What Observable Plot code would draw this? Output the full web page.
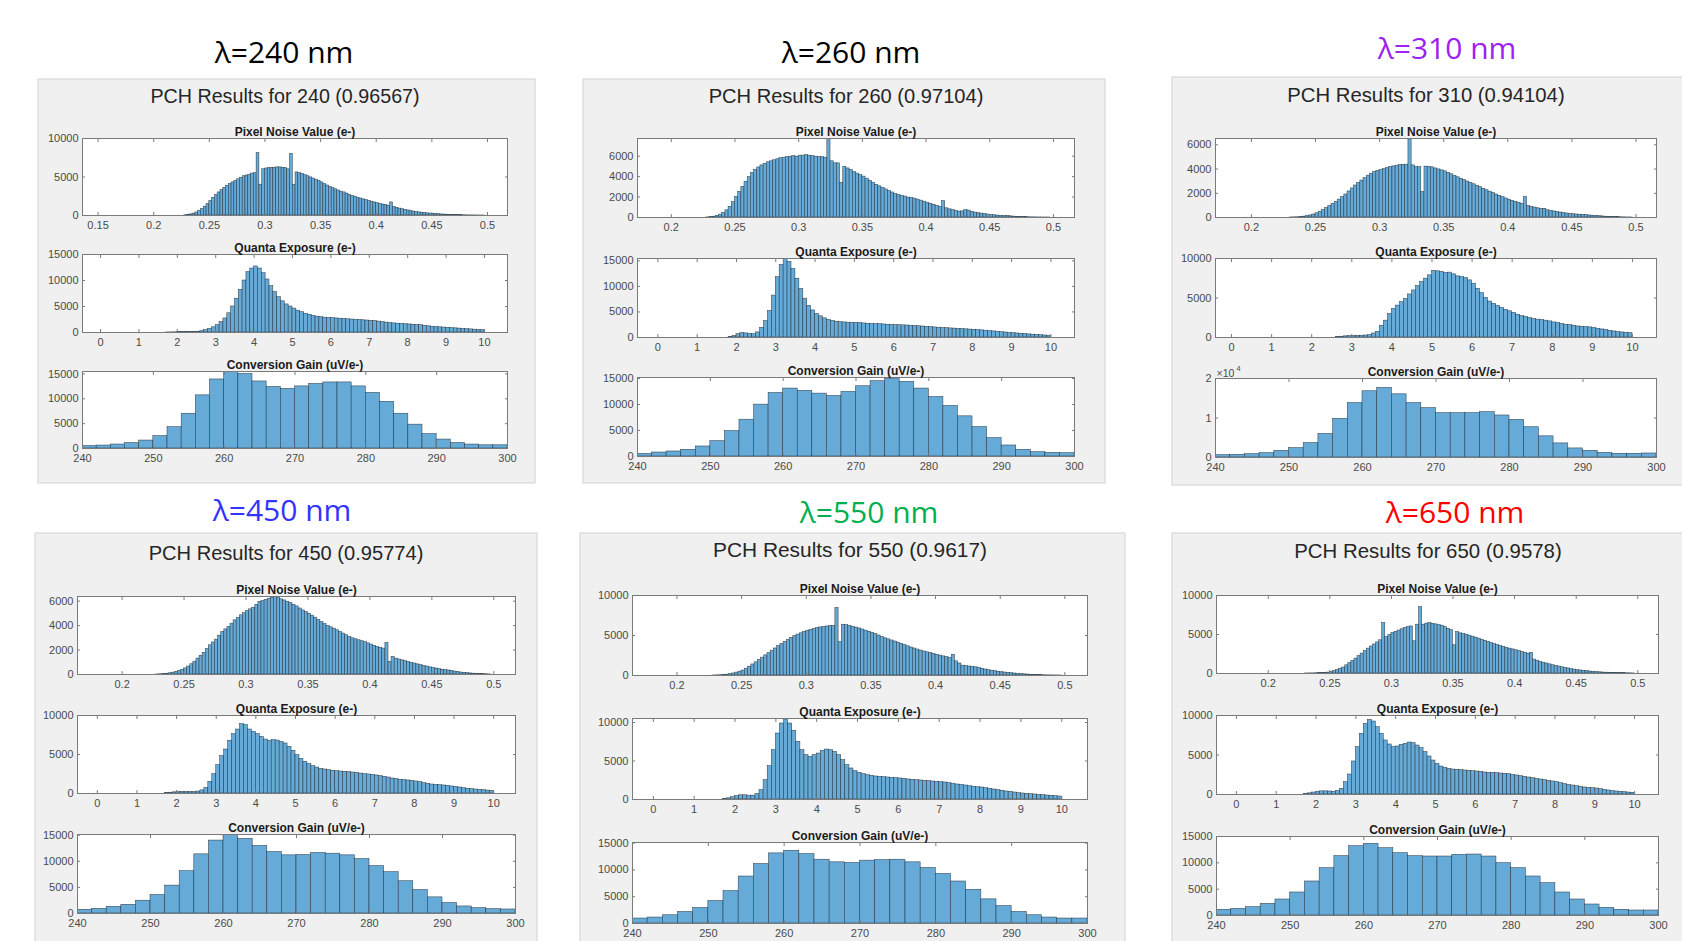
<!DOCTYPE html>
<html>
<head>
<meta charset="utf-8">
<script src="https://cdn.jsdelivr.net/npm/d3@7"></script>
<script src="https://cdn.jsdelivr.net/npm/@observablehq/plot@0.6"></script>
<style>
  html, body { margin: 0; padding: 0; background: #fff; }
  #page { position: relative; width: 1682px; height: 941px; overflow: hidden; background: #fff; }
  .sub { position: absolute; }
  .sub svg { display: block; max-width: none; overflow: visible; }
</style>
</head>
<body>
<div id="page"></div>
<script>
// ---- Histogram bin layout ----
const noiseStart = 0.225, noiseStep = 0.0025;   // Pixel Noise Value (e-)
const quantaStart = 0, quantaStep = 0.1;        // Quanta Exposure (e-)
const gainStart = 240, gainStep = 2;            // Conversion Gain (uV/e-)

// ---- Panel headings ----
const wavelengths = [240, 260, 310, 450, 550, 650];
const fitScores = ["0.96567", "0.97104", "0.94104", "0.95774", "0.9617", "0.9578"];
const subTitles = ["Pixel Noise Value (e-)", "Quanta Exposure (e-)", "Conversion Gain (uV/e-)"];

// ---- Tick labels ----
const noiseXTicks = [0.15, 0.2, 0.25, 0.3, 0.35, 0.4, 0.45, 0.5];
const quantaXTicks = [0, 1, 2, 3, 4, 5, 6, 7, 8, 9, 10];
const gainXTicks = [240, 250, 260, 270, 280, 290, 300];
const ticks10k = [0, 5000, 10000];
const ticks15k = [0, 5000, 10000, 15000];
const ticks6k = [0, 2000, 4000, 6000];
const ticks2e4 = [0, 10000, 20000];

// ---- Counts: Pixel Noise Value, bins of 0.0025 from 0.225 ----
const noise240 = [
  0,30,80,150,250,400,600,850,1150,1500,
  1900,2300,2650,3000,3300,3600,3850,4100,4300,4500,
  4700,4900,5100,5200,5300,5450,5500,8100,4000,6000,
  6100,6150,6200,6200,6250,6250,6200,6150,6000,8000,
  4000,5600,5500,5400,5250,5100,4950,4800,4650,4500,
  4300,4100,3900,3700,3550,3400,3250,3100,3000,2850,
  2700,2550,2450,2300,2200,2100,2000,1900,1800,1700,
  1600,1500,1420,1350,1280,1700,1100,1000,900,820,
  740,660,590,520,460,410,360,320,280,250,
  220,190,160,140,120,100,80,70,60,50,
  40,30,20,15,10,5,3,2,1,0];
const noise260 = [
  0,10,30,80,160,280,450,700,1050,1500,
  2000,2500,3000,3500,3950,4350,4650,4900,5100,5250,
  5400,5500,5600,5700,5800,5850,5900,5950,6000,5950,
  6050,6050,6100,6050,6000,5950,5900,5900,5850,7700,
  5500,5300,5300,3400,4950,4800,4650,4450,4300,4150,
  4000,3800,3600,3400,3200,3050,2900,2750,2600,2450,
  2300,2200,2100,2050,1950,1900,1850,1750,1650,1550,
  1450,1350,1250,1150,1050,1600,900,800,720,640,
  580,600,720,680,560,480,420,380,330,290,
  250,220,190,160,150,170,120,90,70,55,
  40,30,20,15,10,5,3,2,1,0];
const noise310 = [
  0,0,5,10,20,40,70,110,170,250,
  350,480,620,780,950,1120,1300,1480,1680,1900,
  2150,2400,2640,2850,3050,3250,3450,3600,3750,3850,
  3920,4000,4080,4150,4220,4280,4320,4350,4360,6450,
  4300,4150,4150,2100,4200,4180,4140,4050,3970,3890,
  3810,3690,3570,3440,3320,3200,3090,2970,2860,2740,
  2620,2500,2370,2250,2130,2020,1900,1790,1680,1570,
  1470,1380,1300,1220,1140,1690,950,880,820,760,
  700,720,600,550,500,450,410,370,330,300,
  270,250,230,210,190,170,150,130,110,90,
  70,60,50,35,25,15,10,5,3,0];
const noise450 = [
  0,5,15,30,60,100,150,210,290,380,
  500,650,840,1050,1300,1530,1770,2080,2390,2620,
  2850,3170,3480,3690,3890,4160,4430,4640,4840,5020,
  5190,5330,5460,5700,5950,6000,6100,6200,6280,6330,
  6300,6150,6060,5950,5840,5700,5570,5400,5240,5100,
  4970,4810,4650,4470,4290,4130,3970,3860,3750,3620,
  3480,3350,3210,3080,2960,2880,2800,2720,2640,2550,
  2450,2350,2260,2190,2120,2580,1030,1440,1300,1230,
  1160,1100,1030,960,900,830,760,700,650,590,
  540,490,440,390,350,330,300,240,190,160,
  130,110,90,70,50,40,30,20,10,0];
const noise550 = [
  0,5,15,30,60,100,160,250,360,480,
  620,850,1100,1380,1650,1950,2230,2520,2800,3100,
  3380,3670,3950,4200,4450,4700,4940,5120,5280,5450,
  5600,5710,5820,5920,6010,6070,6130,6180,6210,8440,
  4160,6350,6300,6200,6090,5990,5880,5750,5600,5480,
  5350,5180,5000,4820,4650,4520,4380,4250,4120,3960,
  3810,3650,3500,3380,3250,3120,3000,2900,2800,2700,
  2590,2490,2390,2290,2180,2590,1770,1500,1230,1180,
  1130,1080,1030,940,850,750,660,600,540,470,
  410,370,330,290,250,220,180,150,120,90,
  70,55,40,30,20,12,8,4,2,0];
const noise650 = [
  0,0,5,10,15,25,40,60,80,120,
  200,320,470,620,770,1050,1330,1620,1910,2230,
  2550,2870,3190,3460,3720,3990,4260,6470,4680,4940,
  5190,5350,5510,5670,5830,5940,6040,4130,6260,8510,
  6260,6400,6470,6380,6300,6210,6130,5940,5740,5550,
  3620,5320,5150,5060,4980,4850,4720,4600,4470,4330,
  4190,4050,3910,3780,3660,3530,3400,3300,3190,3090,
  2980,2870,2760,2660,2550,2640,1790,1640,1490,1380,
  1280,1170,1060,970,890,800,720,650,570,500,
  430,390,340,300,260,220,190,160,130,110,
  100,90,80,60,50,40,30,20,10,0];

// ---- Counts: Quanta Exposure, bins of 0.1 from 0 ----
const quanta240 = [
  0,0,0,0,0,0,0,0,0,0,
  0,0,0,0,0,0,0,10,20,40,
  80,100,90,80,90,150,250,450,700,1000,
  1400,2000,2700,3700,5000,6500,8200,10000,11600,12300,
  12700,12300,11400,10200,8900,7800,6800,6000,5400,5000,
  4600,4200,3900,3600,3400,3200,3050,2950,2850,2800,
  2750,2700,2650,2600,2550,2500,2450,2400,2350,2300,
  2250,2200,2100,2000,1900,1800,1750,1700,1650,1600,
  1550,1500,1450,1400,1300,1200,1100,1050,1000,950,
  900,850,800,750,700,650,600,550,500,450];
const quanta260 = [
  0,0,0,0,0,0,0,0,0,0,
  0,0,0,0,0,0,0,0,100,300,
  650,850,800,700,650,1000,1900,3200,5200,8200,
  11800,14200,15400,14800,13400,11500,9500,7600,6200,5300,
  4600,4150,3750,3450,3250,3100,3000,2950,2900,2880,
  2850,2800,2750,2700,2650,2620,2600,2550,2500,2450,
  2430,2400,2380,2350,2300,2250,2200,2150,2100,2030,
  1970,1920,1870,1820,1780,1740,1700,1650,1600,1550,
  1510,1450,1400,1330,1270,1200,1130,1050,980,910,
  850,790,730,670,610,560,500,450,400,350];
const quanta310 = [
  0,0,0,0,0,0,0,0,0,0,
  0,0,0,0,0,0,0,0,0,0,
  0,0,0,0,0,0,50,100,150,180,
  200,220,230,250,300,510,720,1490,2130,2980,
  3620,4040,4470,4890,5450,5960,6510,7020,7450,7870,
  8430,8380,8300,8170,8210,8000,7740,7660,7530,7230,
  6810,6170,5620,5020,4550,4260,4000,3740,3490,3320,
  3110,2890,2720,2600,2470,2340,2260,2210,2130,2040,
  1910,1830,1700,1620,1570,1490,1400,1360,1320,1280,
  1190,1110,1020,940,850,770,680,640,600,550];
const quanta450 = [
  0,0,0,0,0,0,0,0,0,0,
  0,0,0,0,0,0,0,50,100,150,
  200,200,200,200,180,250,400,700,1500,2480,
  3630,4790,5640,6750,7610,8200,8890,8760,8200,7900,
  7610,7260,6920,6750,6840,6790,6620,6410,5980,5470,
  4910,4440,4060,3760,3500,3330,3160,3080,2990,2910,
  2860,2820,2780,2740,2690,2650,2560,2480,2440,2390,
  2310,2220,2140,2050,1920,1840,1750,1710,1670,1620,
  1540,1450,1320,1240,1150,1110,1070,1030,980,900,
  850,770,680,600,560,510,470,430,380,340];
const quanta550 = [
  0,0,0,0,0,0,0,0,0,0,
  0,0,0,0,0,0,0,50,150,300,
  450,550,550,500,500,700,1210,2510,4330,6410,
  8570,9870,10390,9870,8920,7490,6410,5760,5540,5760,
  5970,6320,6490,6410,6190,5760,5110,4460,4030,3680,
  3460,3290,3160,3070,2990,2940,2900,2860,2810,2770,
  2730,2680,2600,2550,2510,2470,2420,2380,2340,2290,
  2250,2210,2120,2030,1950,1900,1820,1730,1650,1600,
  1560,1470,1390,1300,1210,1130,1040,1000,910,820,
  780,740,690,650,610,560,520,480,430,390];
const quanta650 = [
  0,0,0,0,0,0,0,0,0,0,
  0,0,0,0,0,0,0,50,150,250,
  350,400,400,380,350,450,720,1560,2530,4180,
  5990,7680,8950,9450,9240,8520,7680,6840,6330,5990,
  6080,6290,6410,6580,6500,6200,5860,5360,4810,4300,
  3880,3540,3380,3250,3160,3120,3080,3040,3000,2950,
  2910,2870,2780,2740,2740,2700,2660,2620,2570,2490,
  2410,2320,2240,2150,2070,1980,1900,1810,1730,1650,
  1560,1430,1310,1220,1140,1050,970,890,840,800,
  760,680,590,510,420,380,340,300,250,210];

// ---- Counts: Conversion Gain, bins of 2 from 240 ----
const gain240 = [500,600,800,1100,1600,2500,4300,7000,10700,13900,15500,15000,13500,12400,12000,12500,13000,13300,13300,12500,11200,9400,7000,4800,2900,1800,1100,800,650,650];
const gain260 = [500,770,970,1290,1930,2960,4890,7080,9980,12230,13070,12620,12100,11650,12430,13520,14490,15000,14360,13070,11460,9720,7730,5670,3540,2120,1290,840,710,640];
const gain310 = [600,680,850,1100,1700,2380,3660,5960,9790,13790,16770,17620,16000,13790,12510,11230,11230,11230,11490,10640,9530,7660,5360,3570,2300,1700,1190,940,940,1020];
const gain450 = [710,900,1290,1670,2450,3540,5340,8110,11330,13970,15130,14300,12940,11780,11140,11200,11590,11460,11140,10430,9080,7920,6180,4510,3090,2000,1350,1030,840,770];
const gain550 = [930,1110,1540,2160,2900,4200,6050,8770,11110,13090,13580,12960,11910,11420,11300,11730,11850,11910,11420,10370,9260,7840,6300,4510,3270,2160,1540,1110,930,930];
const gain650 = [1080,1270,1580,2220,3040,4370,6460,8990,11270,13160,13610,12780,11840,11270,11200,11200,11520,11580,11200,9940,8990,7410,6140,4370,3040,2090,1460,1080,950,950];

const noiseSeries = [noise240, noise260, noise310, noise450, noise550, noise650];
const quantaSeries = [quanta240, quanta260, quanta310, quanta450, quanta550, quanta650];
const gainSeries = [gain240, gain260, gain310, gain450, gain550, gain650];

// ---- Page layout: panel rectangles, heading anchors, axes boxes [x0,y0,x1,y1] ----
const headColors = ["#000000", "#000000", "#a020f0", "#3333ff", "#00b050", "#ff0000"];
const layout = [
  {bg: [38, 79, 535, 483], head: [284, 63], sup: [285, 103], supSize: 19.7,
   boxes: [[82, 138, 507, 215], [82, 254, 507, 332], [82, 371, 507, 448]],
   xDom: [[0.136, 0.518], [-0.47, 10.6], [240, 300]],
   yDom: [[0, 10000], [0, 15000], [0, 15500]],
   yTicks: [ticks10k, ticks15k, ticks15k]},
  {bg: [583, 79, 1105, 483], head: [851, 63], sup: [846, 103], supSize: 20.1,
   boxes: [[637, 138, 1074, 217], [637, 258, 1074, 337], [637, 377, 1074, 456]],
   xDom: [[0.1735, 0.5165], [-0.518, 10.6], [240, 300]],
   yDom: [[0, 7730], [0, 15460], [0, 15200]],
   yTicks: [ticks6k, ticks15k, ticks15k]},
  {bg: [1172, 77, 1690, 485], head: [1447, 59], sup: [1426, 102], supSize: 20.3,
   boxes: [[1215, 138, 1656, 217], [1215, 258, 1656, 337], [1215, 378, 1656, 457]],
   xDom: [[0.172, 0.516], [-0.4, 10.6], [240, 300]],
   yDom: [[0, 6520], [0, 10000], [0, 20000]],
   yTicks: [ticks6k, ticks10k, ticks2e4], sci: true},
  {bg: [35, 533, 537, 950], head: [282, 521], sup: [286, 560], supSize: 20.1,
   boxes: [[77, 596, 515, 674], [77, 715, 515, 793], [77, 834, 515, 913]],
   xDom: [[0.164, 0.5175], [-0.5, 10.55], [240, 300]],
   yDom: [[0, 6380], [0, 10000], [0, 15130]],
   yTicks: [ticks6k, ticks10k, ticks15k]},
  {bg: [580, 533, 1125, 950], head: [869, 523], sup: [850, 557], supSize: 20.9,
   boxes: [[632, 595, 1087, 675], [632, 718, 1087, 799], [632, 842, 1087, 923]],
   xDom: [[0.1656, 0.5175], [-0.51, 10.63], [240, 300]],
   yDom: [[0, 10000], [0, 10520], [0, 15120]],
   yTicks: [ticks10k, ticks10k, ticks15k]},
  {bg: [1172, 533, 1690, 950], head: [1455, 523], sup: [1428, 558], supSize: 20.4,
   boxes: [[1216, 595, 1658, 673], [1216, 715, 1658, 794], [1216, 836, 1658, 915]],
   xDom: [[0.158, 0.5168], [-0.5, 10.6], [240, 300]],
   yDom: [[0, 10000], [0, 10000], [0, 15000]],
   yTicks: [ticks10k, ticks10k, ticks15k]}
];

const page = d3.select("#page");
const sansFont = "'Liberation Sans', Arial, Helvetica, sans-serif";

// Background layer: grey figure panels and their headings
const back = page.append("svg")
  .attr("width", 1682).attr("height", 941)
  .style("position", "absolute").style("left", "0px").style("top", "0px");

layout.forEach((L, i) => {
  back.append("rect")
    .attr("x", L.bg[0]).attr("y", L.bg[1])
    .attr("width", L.bg[2] - L.bg[0]).attr("height", L.bg[3] - L.bg[1])
    .attr("fill", "#f0f0f0").attr("stroke", "#d8d8d8").attr("stroke-width", 1.2);
  back.append("text")
    .attr("x", L.head[0]).attr("y", L.head[1])
    .attr("text-anchor", "middle")
    .attr("font-family", "'Open Sans', 'Noto Sans', sans-serif")
    .attr("font-size", 30)
    .attr("fill", headColors[i])
    .text(`λ=${wavelengths[i]} nm`);
  back.append("text")
    .attr("x", L.sup[0]).attr("y", L.sup[1])
    .attr("text-anchor", "middle")
    .attr("font-family", sansFont)
    .attr("font-size", L.supSize)
    .attr("fill", "#262626")
    .text(`PCH Results for ${wavelengths[i]} (${fitScores[i]})`);
});

function toBins(counts, start, step) {
  return counts.map((n, i) => ({x1: start + i * step, x2: start + (i + 1) * step, n}));
}

const barFill = "#66aad7";
const barEdge = "#1d2a36";
const axisGrey = "#7a7a7a";

function histogram(box, spec) {
  const ml = 50, mr = 14, mt = 22, mb = 22;
  const w = box[2] - box[0], h = box[3] - box[1];
  const xt = spec.xTicks.filter(t => t >= spec.xDom[0] && t <= spec.xDom[1]);
  const marks = [
    Plot.frame({fill: "white", stroke: null}),
    Plot.rectY(spec.bins, {x1: "x1", x2: "x2", y: "n", inset: 0, fill: barFill,
      stroke: barEdge, strokeWidth: 0.55, strokeOpacity: 0.85, clip: true}),
    Plot.axisX({anchor: "bottom", ticks: xt, tickFormat: d => String(d), tickSize: -3, tickPadding: 8.5,
      stroke: axisGrey, fill: "#4a4a4a", label: null}),
    Plot.axisX({anchor: "top", ticks: xt, tickFormat: () => "", tickSize: -3, stroke: axisGrey, label: null}),
    Plot.axisY({anchor: "left", ticks: spec.yTicks, tickFormat: spec.yFormat, tickSize: -3, tickPadding: 7,
      stroke: axisGrey, fill: "#4a4a4a", label: null}),
    Plot.axisY({anchor: "right", ticks: spec.yTicks, tickFormat: () => "", tickSize: -3, stroke: axisGrey, label: null}),
    Plot.frame({stroke: axisGrey, strokeWidth: 1}),
    Plot.text([spec.title], {frameAnchor: "top", lineAnchor: "bottom", dy: -3,
      fontWeight: "bold", fontSize: 12, fill: "#1a1a1a"})
  ];
  if (spec.sci) {
    // exponent of the count axis: ×10 with a raised 4
    marks.push(Plot.text(["×10"], {frameAnchor: "top-left", textAnchor: "start", lineAnchor: "bottom",
      dy: -2, dx: 1, fontSize: 10.5, fill: "#4a4a4a"}));
    marks.push(Plot.text(["4"], {frameAnchor: "top-left", textAnchor: "start", lineAnchor: "bottom",
      dy: -8, dx: 21, fontSize: 7.5, fill: "#4a4a4a"}));
  }
  const chart = Plot.plot({
    width: w + ml + mr, height: h + mt + mb,
    marginLeft: ml, marginRight: mr, marginTop: mt, marginBottom: mb,
    style: {background: "transparent", fontFamily: sansFont, fontSize: "11px", color: "#4a4a4a", overflow: "visible"},
    x: {domain: spec.xDom, label: null},
    y: {domain: spec.yDom, label: null},
    marks
  });
  const host = page.append("div").attr("class", "sub")
    .style("left", (box[0] - ml) + "px").style("top", (box[1] - mt) + "px");
  host.node().appendChild(chart);
}

layout.forEach((L, i) => {
  const sets = [
    {bins: toBins(noiseSeries[i], noiseStart, noiseStep), xTicks: noiseXTicks},
    {bins: toBins(quantaSeries[i], quantaStart, quantaStep), xTicks: quantaXTicks},
    {bins: toBins(gainSeries[i], gainStart, gainStep), xTicks: gainXTicks}
  ];
  sets.forEach((s, k) => {
    const sci = L.sci && k === 2;
    histogram(L.boxes[k], {
      bins: s.bins, xTicks: s.xTicks, title: subTitles[k],
      xDom: L.xDom[k], yDom: L.yDom[k], yTicks: L.yTicks[k],
      yFormat: sci ? (d => String(d / 10000)) : (d => String(d)),
      sci
    });
  });
});
</script>
</body>
</html>
